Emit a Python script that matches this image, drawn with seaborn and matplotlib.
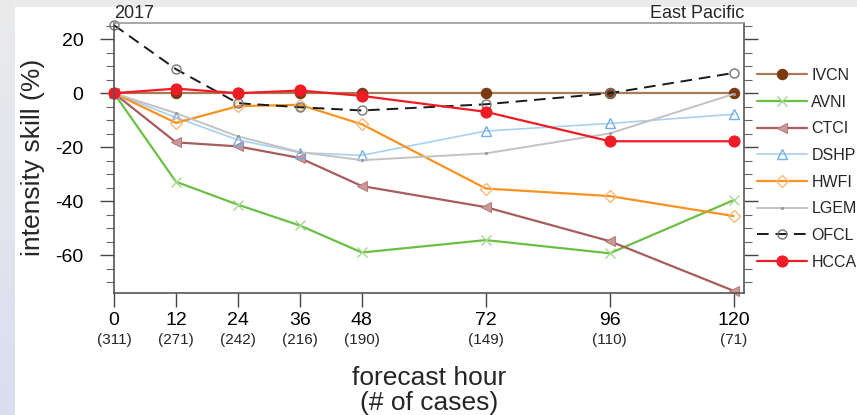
import numpy as np
import pandas as pd
import matplotlib
matplotlib.use("Agg")
import matplotlib.pyplot as plt
from matplotlib.ticker import MultipleLocator
from matplotlib.colors import LinearSegmentedColormap
import seaborn as sns

hours = [0, 12, 24, 36, 48, 72, 96, 120]
cases = [311, 271, 242, 216, 190, 149, 110, 71]

ivcn = [0, 0, 0, 0, 0, 0, 0, 0]
avni = [0, -32.8, -41.3, -49.0, -59.0, -54.4, -59.3, -39.6]
ctci = [0, -18.2, -19.7, -24.0, -34.4, -42.2, -54.8, -73.2]
dshp = [0, -9.0, -17.3, -22.0, -23.0, -14.0, -11.2, -7.8]
hwfi = [0, -11.0, -4.8, -4.3, -11.5, -35.3, -38.1, -45.5]
lgem = [0, -7.4, -16.0, -21.8, -24.8, -22.3, -14.9, -0.3]
ofcl = [25.2, 8.9, -3.7, -5.2, -6.4, -4.1, 0, 7.5]
hcca = [0, 1.7, 0, 1.0, -1.0, -6.9, -17.8, -17.8]

sns.set_theme(style="white")
plt.rcParams['font.family'] = ['Liberation Sans', 'DejaVu Sans']

W, H = 857, 415
fig = plt.figure(figsize=(W / 100, H / 100), dpi=100)
fig.patch.set_facecolor('white')

# background decorations
top_bg = fig.add_axes([15 / W, 1 - 7 / H, 1 - 15 / W, 7 / H])
top_bg.set_facecolor('#ebebeb')
top_bg.set_xticks([]); top_bg.set_yticks([])
for s in top_bg.spines.values():
    s.set_visible(False)
left_bg = fig.add_axes([0, 0, 15 / W, 1])
grad = np.linspace(0, 1, 256).reshape(-1, 1)
cm = LinearSegmentedColormap.from_list('g', ['#ebebeb', '#dadeef'])
left_bg.imshow(grad, aspect='auto', cmap=cm, extent=[0, 1, 0, 1], origin='upper')
left_bg.axis('off')

ax = fig.add_axes([114 / W, 1 - 293 / H, (744 - 114) / W, (293 - 23) / H])
ax.set_facecolor('white')

series = [
    ("IVCN", ivcn, dict(color='#a87a55', marker='o', markersize=7.5, markerfacecolor='#7b3a12',
                        markeredgecolor='#7b3a12', linewidth=1.6)),
    ("AVNI", avni, dict(color='#6cbf45', marker='x', markersize=7, markeredgecolor='#a3d98e',
                        markeredgewidth=1.0, linewidth=1.6)),
    ("CTCI", ctci, dict(color='#a85c5c', marker='<', markersize=7, markerfacecolor='#c99a9a',
                        markeredgecolor='#b87878', linewidth=1.6)),
    ("DSHP", dshp, dict(color='#a9d0f0', marker='^', markersize=7, markerfacecolor='none',
                        markeredgecolor='#6fb0e6', markeredgewidth=1.0, linewidth=1.2)),
    ("HWFI", hwfi, dict(color='#f7931e', marker='D', markersize=6, markerfacecolor='none',
                        markeredgecolor='#f9b978', markeredgewidth=1.0, linewidth=1.6)),
    ("LGEM", lgem, dict(color='#c2c2c2', marker='.', markersize=3, markerfacecolor='#999999',
                        markeredgecolor='#999999', linewidth=1.4)),
    ("OFCL", ofcl, dict(color='#1a1a1a', marker='o', markersize=6.5, markerfacecolor='none',
                        markeredgecolor='#777777', markeredgewidth=1.0, linewidth=1.4,
                        linestyle=(0, (6, 3.5)))),
    ("HCCA", hcca, dict(color='#ee1c25', marker='o', markersize=8, markerfacecolor='#ee1c25',
                        markeredgecolor='#ee1c25', linewidth=1.6)),
]

for name, vals, kw in series:
    df = pd.DataFrame({"hour": hours, "skill": vals})
    sns.lineplot(data=df, x="hour", y="skill", ax=ax, label=name, clip_on=False, **kw)

ax.set_xlim(0, 122)
ax.set_ylim(-74, 26)
ax.set_xlabel("")
ax.set_ylabel("")

ax.set_xticks(hours)
ax.set_xticklabels([str(h) for h in hours], fontsize=14)
ax.set_yticks([20, 0, -20, -40, -60])
ax.set_yticklabels(["20", "0", "-20", "-40", "-60"], fontsize=14)
ax.yaxis.set_minor_locator(MultipleLocator(5))
ax.tick_params(axis='x', which='major', direction='out', length=10, width=1, color='#444444',
               pad=4, bottom=True, top=False, labelcolor='black')
ax.tick_params(axis='y', which='major', direction='out', length=10, width=1, color='#444444',
               pad=12, left=True, right=True, labelcolor='black')
ax.tick_params(axis='y', which='minor', direction='out', length=5.5, width=0.8, color='#666666',
               left=True, right=True)
for s in ax.spines.values():
    s.set_visible(True)
    s.set_color('#555555')
    s.set_linewidth(1.2)
ax.spines['top'].set_color('#999999')

for h, c in zip(hours, cases):
    ax.annotate(f"({c})", xy=(h, 0), xycoords=('data', 'axes fraction'),
                xytext=(0, -33.5), textcoords='offset points', ha='center', va='center',
                fontsize=11)

ax.text(0, 1.005, "2017", transform=ax.transAxes, ha='left', va='bottom', fontsize=13)
ax.text(1, 1.005, "East Pacific", transform=ax.transAxes, ha='right', va='bottom', fontsize=13)

fig.text(33 / W, 1 - 157 / H, "intensity skill (%)", rotation=90, ha='center', va='center',
         fontsize=19)
fig.text(429 / W, 1 - 378 / H, "forecast hour", ha='center', va='center', fontsize=19)
fig.text(429 / W, 1 - 403 / H, "(# of cases)", ha='center', va='center', fontsize=19)

leg = ax.legend(loc='upper left', bbox_to_anchor=(757 / W, 1 - 68 / H),
                bbox_transform=fig.transFigure, frameon=False, fontsize=11.5,
                handlelength=3.1, handletextpad=0.3, labelspacing=0.73, borderpad=0,
                borderaxespad=0)

fig.savefig("out.png", dpi=100)
